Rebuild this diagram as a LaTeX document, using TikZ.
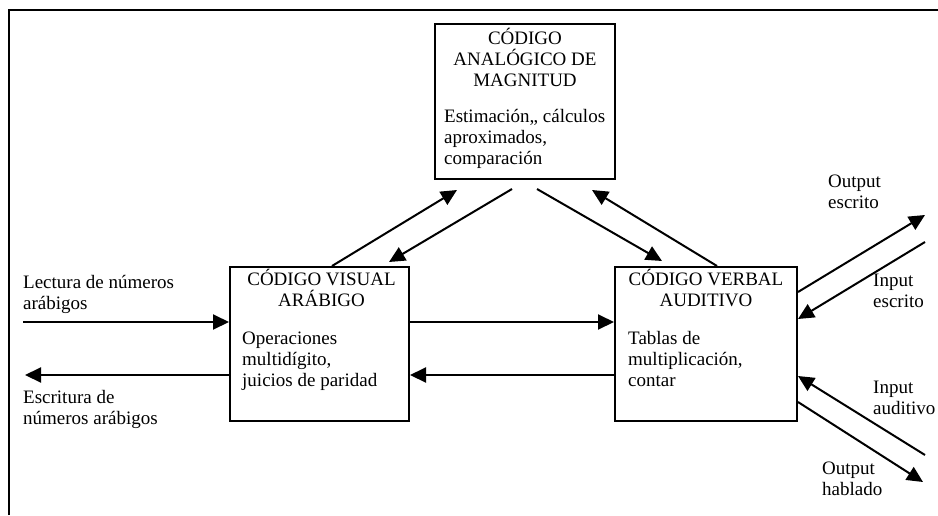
\documentclass[tikz,border=0pt]{standalone}
\usepackage{fontspec}
\setmainfont{Liberation Serif}
\usetikzlibrary{arrows.meta,positioning,calc}

\tikzset{
 codebox/.style={draw, line width=2pt, minimum height=154pt, inner sep=0pt},
 boxtitle/.style={align=center, inner sep=0pt, anchor=base},
 boxbody/.style={align=left, inner sep=0pt, anchor=base west},
 sidetext/.style={align=left, inner sep=0pt, anchor=base west},
 flow/.style={line width=2pt, -{Triangle[length=16pt,width=15pt]}}
}

\begin{document}
\begin{tikzpicture}[x=1pt,y=-1pt,font=\fontsize{19}{21}\selectfont]
 \useasboundingbox (0,0) rectangle (938,515);

% Frame
 \draw[line width=2pt] (9,515) -- (9,10) -- (938,10);

% Boxes
 \node[codebox, minimum width=180pt, minimum height=155pt] (analog) at (525,101.5) {};
 \node[codebox, minimum width=179pt] (visual) at (319.5,344) {};
 \node[codebox, minimum width=182pt] (verbal) at (706,344) {};

% Box texts (base = last line)
 \node[boxtitle] (analogT) at ($(analog.north)+(0,63)$) {CÓDIGO\\ANALÓGICO DE\\MAGNITUD};
 \node[boxbody] (analogB) at ($(analog.north west)+(10,141)$) {Estimación,, cálculos\\aproximados,\\comparación};
 \node[boxtitle] (visualT) at ($(visual.north)+(2,40.5)$) {CÓDIGO VISUAL\\ARÁBIGO};
 \node[boxbody] (visualB) at ($(visual.north west)+(13,120)$) {Operaciones\\multidígito,\\juicios de paridad};
 \node[boxtitle] (verbalT) at ($(verbal.north)+(0,40.5)$) {CÓDIGO VERBAL\\AUDITIVO};
 \node[boxbody] (verbalB) at ($(verbal.north west)+(14,120)$) {Tablas de\\multiplicación,\\contar};

% Side texts
 \node[sidetext] (lectura) at (23,309) {Lectura de números\\arábigos};
 \node[sidetext] (escritura) at (23,424) {Escritura de\\números arábigos};
 \node[sidetext] (outEsc) at (828,208) {Output\\escrito};
 \node[sidetext] (inEsc) at (873,307) {Input\\escrito};
 \node[sidetext] (inAud) at (873,414) {Input\\auditivo};
 \node[sidetext] (outHab) at (822,495) {Output\\hablado};

% Free ends
 \coordinate (lecIn) at (23,322);
 \coordinate (escOut) at (25,375);
 \coordinate (escTip) at (925,215);
 \coordinate (escStart) at (925,242);
 \coordinate (audStart) at (925,455);
 \coordinate (habTip) at (923,482);

% Arrows
 \draw[flow] (lecIn) -- ($(visual.west)+(0,-22)$);
 \draw[flow] ($(visual.west)+(0,31)$) -- (escOut);
 \draw[flow] ($(visual.east)+(0,-22)$) -- ($(verbal.west)+(0,-22)$);
 \draw[flow] ($(verbal.west)+(0,31)$) -- ($(visual.east)+(0,31)$);
 \draw[flow] ($(visual.north west)+(103,0)$) -- ($(analog.south west)+(23,10)$);
 \draw[flow] ($(analog.south west)+(78,9)$) -- ($(visual.north west)+(160,-4)$);
 \draw[flow] ($(analog.south west)+(103,9)$) -- ($(verbal.north west)+(48,-5)$);
 \draw[flow] ($(verbal.north west)+(103,0)$) -- ($(analog.south west)+(158,10)$);
 \draw[flow] ($(verbal.north east)+(0,26)$) -- (escTip);
 \draw[flow] (escStart) -- ($(verbal.north east)+(0,53)$);
 \draw[flow] (audStart) -- ($(verbal.north east)+(0,110)$);
 \draw[flow] ($(verbal.north east)+(0,136)$) -- (habTip);

\end{tikzpicture}
\end{document}
